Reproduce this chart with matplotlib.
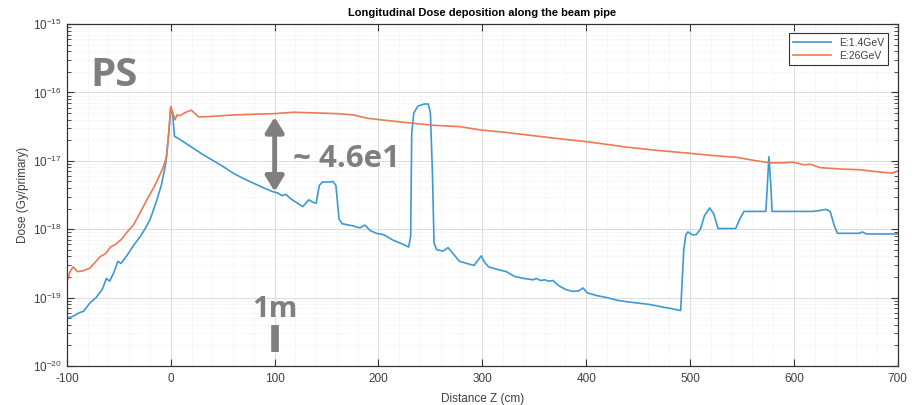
import matplotlib.pyplot as plt
import numpy as np
from matplotlib.ticker import LogLocator, MultipleLocator, NullFormatter

# Distance Z (cm) and log10 of dose (Gy/primary)
z_low = [-100, -95, -88, -84, -78, -72, -66, -62, -59, -55, -51, -48, -42, -36, -30, -25,
         -20, -14, -9, -5, -2, 0, 2, 3.5, 10, 20, 30, 40, 50, 60, 70, 80, 90, 98, 103, 107,
         111, 115, 120, 127, 130, 133, 136, 140, 143, 146, 153, 156, 159, 162, 165, 175,
         182, 187, 192, 198, 205, 214, 222, 229, 231, 232, 234, 238, 244, 248, 250, 252,
         253.5, 256, 262, 267, 272, 278, 285, 292, 296, 299, 302, 306, 315, 323, 331, 340,
         349, 352, 356, 360, 364, 368, 373, 380, 387, 393, 397, 401, 410, 420, 430, 439,
         450, 461, 468, 474, 482, 491, 492, 494, 496, 498, 502, 506, 510, 514, 519, 523,
         527, 535, 544, 548, 552, 560, 573, 574, 576, 578, 579, 600, 618, 624, 631, 635,
         639, 642, 655, 663, 666, 670, 685, 700]
dose_low = [-19.30, -19.28, -19.22, -19.20, -19.08, -19.00, -18.88, -18.72, -18.76, -18.64,
            -18.47, -18.50, -18.38, -18.24, -18.12, -18.00, -17.86, -17.60, -17.35, -17.05,
            -16.60, -16.21, -16.35, -16.64, -16.70, -16.80, -16.90, -16.99, -17.08, -17.18,
            -17.26, -17.33, -17.40, -17.45, -17.47, -17.51, -17.49, -17.55, -17.60, -17.67,
            -17.62, -17.57, -17.60, -17.62, -17.36, -17.31, -17.31, -17.30, -17.36, -17.85,
            -17.92, -17.95, -17.98, -17.94, -18.02, -18.06, -18.08, -18.16, -18.21, -18.26,
            -18.10, -16.60, -16.30, -16.20, -16.17, -16.17, -16.30, -17.20, -18.20, -18.30,
            -18.32, -18.27, -18.36, -18.47, -18.50, -18.53, -18.45, -18.39, -18.48, -18.55,
            -18.59, -18.62, -18.69, -18.72, -18.74, -18.72, -18.75, -18.74, -18.76, -18.75,
            -18.82, -18.88, -18.91, -18.90, -18.86, -18.93, -18.97, -19.00, -19.04, -19.06,
            -19.08, -19.10, -19.12, -19.14, -19.16, -19.19, -18.90, -18.30, -18.08, -18.04,
            -18.08, -18.08, -18.00, -17.80, -17.69, -17.78, -17.99, -17.99, -17.99, -17.85,
            -17.74, -17.74, -17.74, -17.50, -16.94, -17.40, -17.74, -17.74, -17.74, -17.73,
            -17.71, -17.74, -17.95, -18.06, -18.06, -18.06, -18.04, -18.07, -18.07, -18.07]

z_high = [-100, -97, -94, -90, -85, -78, -72, -68, -63, -58, -53, -47, -42, -36, -30, -23,
          -15, -8, -4, -2, 0, 2, 4, 6, 9, 12, 16, 20, 24, 27, 40, 60, 80, 100, 118, 140, 160,
          176, 190, 220, 252, 278, 299, 320, 342, 370, 400, 420, 439, 470, 500, 520, 545,
          560, 577, 590, 599, 610, 616, 625, 645, 663, 680, 695, 700]
dose_high = [-18.77, -18.62, -18.55, -18.62, -18.61, -18.57, -18.47, -18.40, -18.36, -18.26,
             -18.22, -18.14, -18.04, -17.94, -17.77, -17.57, -17.35, -17.12, -16.94, -16.60,
             -16.21, -16.30, -16.40, -16.33, -16.34, -16.31, -16.28, -16.26, -16.32, -16.36,
             -16.35, -16.33, -16.32, -16.31, -16.29, -16.30, -16.31, -16.33, -16.38, -16.43,
             -16.48, -16.50, -16.55, -16.58, -16.62, -16.67, -16.72, -16.76, -16.80, -16.85,
             -16.89, -16.92, -16.95, -16.99, -17.03, -17.03, -17.02, -17.06, -17.05, -17.10,
             -17.12, -17.13, -17.16, -17.18, -17.15]

labels = ['E:1.4GeV', 'E:26GeV']
x_ticks = [-100, 0, 100, 200, 300, 400, 500, 600, 700]
y_ticks = [1e-20, 1e-19, 1e-18, 1e-17, 1e-16, 1e-15]

plt.rcParams['font.family'] = ['Liberation Sans', 'DejaVu Sans']
plt.rcParams['axes.unicode_minus'] = False

fig = plt.figure(figsize=(9.16, 4.05), dpi=100)
ax = fig.add_axes([0.0731, 0.0963, 0.9069, 0.8444])

ax.plot(z_low, 10 ** np.array(dose_low), color='#3d9ad1', lw=1.2, label=labels[0])
ax.plot(z_high, 10 ** np.array(dose_high), color='#ec7a55', lw=1.2, label=labels[1])

ax.set_yscale('log')
ax.set_xlim(-100, 700)
ax.set_ylim(1e-20, 1e-15)
ax.set_xticks(x_ticks)
ax.set_yticks(y_ticks)
ax.xaxis.set_minor_locator(MultipleLocator(20))
ax.yaxis.set_minor_locator(LogLocator(base=10, subs=np.arange(2, 10), numticks=20))
ax.yaxis.set_minor_formatter(NullFormatter())

ax.grid(which='major', color='#dcdcdc', lw=0.7)
ax.grid(which='minor', color='#e6e6e6', lw=0.5, ls=':')
ax.set_axisbelow(True)

ax.tick_params(which='both', direction='in', top=True, right=True, colors='#333333',
               labelsize=8.5, labelcolor='#404040')
ax.tick_params(which='major', length=5)
ax.tick_params(axis='x', which='minor', length=0)
ax.tick_params(axis='x', which='major', pad=5)
ax.tick_params(axis='y', which='minor', length=3)
for s in ax.spines.values():
    s.set_color('#333333')
    s.set_linewidth(0.9)

ax.set_title('Longitudinal Dose deposition along the beam pipe', fontsize=8,
             fontweight='bold', pad=6)
ax.set_xlabel('Distance Z (cm)', fontsize=8.5, color='#404040', labelpad=6)
ax.set_ylabel('Dose (Gy/primary)', fontsize=8.5, color='#404040', labelpad=3)

leg = ax.legend(loc='upper right', fontsize=7.5, fancybox=False, framealpha=1,
                edgecolor='#333333', handlelength=3.6, borderaxespad=0.9,
                labelspacing=0.3)
leg.get_frame().set_linewidth(0.8)
for t in leg.get_texts():
    t.set_color('#404040')

# slide annotations
grey = '#7f7f7f'
ax.text(-77, 10 ** -15.76, 'PS', fontsize=29, fontweight='bold', color=grey,
        family=['Open Sans', 'DejaVu Sans'], va='center', ha='left')
ax.annotate('', xy=(100, 10 ** -16.36), xytext=(100, 10 ** -17.45),
            arrowprops=dict(arrowstyle='<|-|>,head_length=0.9,head_width=0.55',
                            color=grey, lw=3.5, shrinkA=0, shrinkB=0))
ax.text(118, 10 ** -16.98, '~ 4.6e1', fontsize=22.5, fontweight='bold', color=grey,
        family=['Open Sans', 'DejaVu Sans'], va='center', ha='left')
ax.text(100, 10 ** -19.18, '1m', fontsize=21, fontweight='bold', color=grey,
        family=['Open Sans', 'DejaVu Sans'], va='center', ha='center')
ax.plot([100, 100], [10 ** -19.40, 10 ** -19.80], color=grey, lw=5.5,
        solid_capstyle='butt')

fig.savefig('out.png', dpi=100)
